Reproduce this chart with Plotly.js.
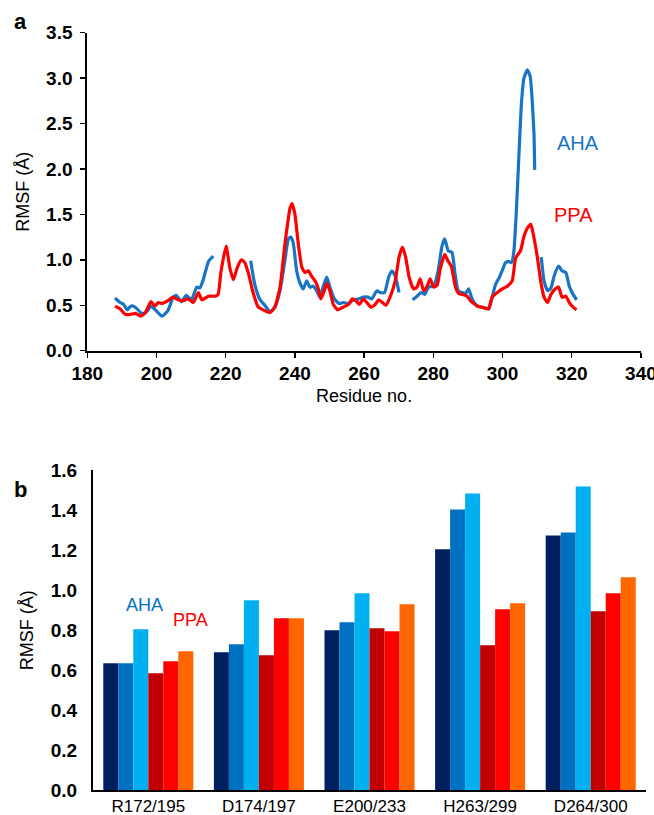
<!DOCTYPE html>
<html>
<head>
<meta charset="utf-8">
<script src="https://cdn.plot.ly/plotly-3.0.1.min.js"></script>
<style>html,body{margin:0;padding:0;background:#fff;}#chart{width:654px;height:815px;}</style>
</head>
<body>
<div id="chart"></div>
<script>
// ---- Panel a: RMSF per residue ----
const ahaResidue = [188,189.5,190.5,191.5,192.5,193.4,194.4,195.4,196.4,197.4,198.4,199.9,201.6,203.3,204.7,205.7,207.2,208.6,210.1,211.6,212.5,213.5,215,216.4,
  220,
  227.2,228.4,229.8,231.3,232.8,234.2,235.7,237.1,238.1,238.8,239.5,240.5,241.4,242.4,243.4,244.3,245.3,246.3,247.2,248.2,249.2,250.1,251.4,252.8,254,255.5,256.9,258.4,259.8,261.1,262.2,263.7,264.6,265.9,267.1,268,269,270.1,
  272,
  274,275.3,276.5,277.5,278.6,280.1,281.4,282.5,283.3,284.3,285.4,286.3,287.2,288.3,289.3,290.2,291.2,292.2,293.6,295.1,296.1,297,298,299,299.9,300.9,301.9,302.6,303.3,304,304.8,305.5,306.2,307.2,308,308.6,309.1,309.3,
  310,
  311.2,312,313,314,314.9,316.2,317.2,318.3,319.3,320.4,321.4];
const ahaRmsf = [0.58,0.53,0.51,0.45,0.49,0.49,0.46,0.42,0.41,0.44,0.49,0.44,0.38,0.44,0.58,0.61,0.54,0.61,0.56,0.70,0.69,0.78,0.98,1.04,
  null,
  0.99,0.73,0.57,0.50,0.43,0.48,0.66,0.99,1.23,1.25,1.19,0.88,0.75,0.68,0.77,0.70,0.71,0.66,0.59,0.71,0.81,0.70,0.57,0.52,0.53,0.52,0.56,0.57,0.59,0.59,0.57,0.66,0.64,0.64,0.81,0.88,0.82,0.64,
  null,
  0.56,0.60,0.64,0.62,0.70,0.71,0.88,1.15,1.23,1.10,1.08,0.84,0.66,0.64,0.63,0.68,0.57,0.51,0.48,0.47,0.46,0.59,0.73,0.80,0.88,0.97,0.98,0.97,1.10,1.54,2.20,2.74,3.00,3.09,3.02,2.74,2.38,1.99,
  null,
  1.03,0.77,0.66,0.69,0.82,0.93,0.88,0.86,0.71,0.62,0.56];

const ppaResidue = [188,189.5,191,192.5,193.9,195.4,196.8,198.4,199.5,200.5,201.7,203.3,204.7,206.2,207.6,209.1,210.6,212.1,213.1,215,217,217.8,218.6,220.1,221.2,222.2,223.3,224.5,225.5,226.5,227.9,229.4,230.8,232.8,234.2,235.7,237.1,238.6,239.2,240,241,242,242.9,243.9,244.8,245.8,246.8,247.5,248.5,249.2,250.1,251.1,252.4,254,255.5,256.6,257.6,258.6,259.8,260.8,262,263.2,264.2,265.3,266.3,267.5,269,270.1,271.1,272,273,274.3,275.3,276.2,277.2,278.2,279.1,280.1,281.1,282,283.3,284.2,285.2,286.4,287.3,288.3,289.8,290.7,291.7,292.7,294.1,295.9,297,298.5,299.9,301.4,302.8,303.8,305.2,306.2,307.2,308.2,309.1,310.1,311.1,312,313,314,315.2,316.2,317.2,318.3,319.3,320.4,321.4];
const ppaRmsf = [0.49,0.46,0.40,0.40,0.41,0.38,0.42,0.54,0.49,0.53,0.52,0.55,0.59,0.56,0.55,0.57,0.53,0.64,0.56,0.60,0.60,0.62,0.86,1.15,0.91,0.78,0.91,1.00,0.97,0.86,0.64,0.48,0.45,0.42,0.48,0.70,1.17,1.57,1.62,1.50,1.17,0.92,0.86,0.88,0.82,0.77,0.68,0.57,0.66,0.74,0.66,0.51,0.45,0.48,0.51,0.57,0.55,0.51,0.57,0.53,0.48,0.51,0.56,0.53,0.50,0.59,0.77,1.03,1.14,1.03,0.81,0.68,0.70,0.79,0.66,0.71,0.79,0.70,0.72,0.90,1.06,0.99,0.93,0.70,0.63,0.62,0.60,0.55,0.52,0.49,0.48,0.46,0.59,0.64,0.68,0.71,0.77,1.02,1.10,1.26,1.35,1.39,1.24,1.02,0.75,0.59,0.53,0.62,0.68,0.70,0.59,0.60,0.53,0.48,0.45];

// ---- Panel b: RMSF of selected residues ----
const residuePairs = ['R172/195','D174/197','E200/233','H263/299','D264/300'];
const aha1 = [0.635, 0.69, 0.80, 1.205, 1.275];
const aha2 = [0.635, 0.73, 0.84, 1.405, 1.29];
const aha3 = [0.805, 0.95, 0.985, 1.485, 1.52];
const ppa1 = [0.585, 0.675, 0.81, 0.725, 0.895];
const ppa2 = [0.645, 0.86, 0.795, 0.905, 0.985];
const ppa3 = [0.695, 0.86, 0.93, 0.935, 1.065];
const barNames = ['AHA 1','AHA 2','AHA 3','PPA 1','PPA 2','PPA 3'];
const barColors = ['#002060','#0070C0','#00B0F0','#C00000','#FF0000','#FF6600'];

const FONT = 'Liberation Sans, Arial, Helvetica, sans-serif';

const traces = [
  {x: ahaResidue, y: ahaRmsf, type:'scatter', mode:'lines', name:'AHA', connectgaps:false,
   line:{color:'#1A74C4', width:3.2, shape:'spline', smoothing:0.5}, xaxis:'x', yaxis:'y'},
  {x: ppaResidue, y: ppaRmsf, type:'scatter', mode:'lines', name:'PPA',
   line:{color:'#FF0000', width:3.2, shape:'spline', smoothing:0.5}, xaxis:'x', yaxis:'y'}
];
[aha1,aha2,aha3,ppa1,ppa2,ppa3].forEach((vals,i)=>{
  traces.push({x: residuePairs, y: vals, type:'bar', name: barNames[i],
    marker:{color: barColors[i], line:{width:0}}, xaxis:'x2', yaxis:'y2'});
});

const layout = {
  width:654, height:815, autosize:false,
  margin:{l:0,r:0,t:0,b:0},
  paper_bgcolor:'#fff', plot_bgcolor:'#fff',
  showlegend:false,
  font:{family:FONT, color:'#000'},
  barmode:'group', bargap:0.186, bargroupgap:0,
  xaxis:{domain:[0.1335,0.98], anchor:'y', range:[180,340], dtick:20, tick0:180,
    showline:true, linecolor:'#000', linewidth:2, ticks:'outside', ticklen:5, tickwidth:1.5, tickcolor:'#000',
    ticklabeloverflow:'allow',
    showgrid:false, zeroline:false, tickfont:{size:19, weight:'bold', family:FONT},
    title:{text:'Residue no.', font:{size:18, family:FONT}, standoff:6}},
  yaxis:{domain:[0.5697,0.9599], anchor:'x', range:[0,3.5], dtick:0.5, tickformat:'.1f',
    showline:true, linecolor:'#000', linewidth:2, ticks:'outside', ticklen:5, tickwidth:1.5, tickcolor:'#000',
    ticklabelstandoff:4,
    showgrid:false, zeroline:false, tickfont:{size:19, weight:'bold', family:FONT},
    title:{text:'RMSF (Å)', font:{size:18, family:FONT}, standoff:12}},
  xaxis2:{domain:[0.1422,0.9878], anchor:'y2', showline:true, linecolor:'#000', linewidth:2,
    ticks:'', showgrid:false, zeroline:false, tickfont:{size:17, family:FONT}},
  yaxis2:{domain:[0.0307,0.4227], anchor:'x2', range:[0,1.6], dtick:0.2, tickformat:'.1f',
    showline:true, linecolor:'#000', linewidth:2, ticks:'', showgrid:false, zeroline:false,
    ticklabelstandoff:10, tickfont:{size:19, weight:'bold', family:FONT},
    title:{text:'RMSF (Å)', font:{size:18, family:FONT}, standoff:12}},
  annotations:[
    {text:'a', xref:'paper', yref:'paper', x:20/654, y:1-22/815, xanchor:'center', yanchor:'middle', showarrow:false, font:{size:22, weight:'bold', family:FONT}},
    {text:'b', xref:'paper', yref:'paper', x:20/654, y:1-489/815, xanchor:'center', yanchor:'middle', showarrow:false, font:{size:22, weight:'bold', family:FONT}},
    {text:'AHA', xref:'x', yref:'y', x:321.8, y:2.29, showarrow:false, font:{size:20, color:'#1A74C4', family:FONT}},
    {text:'PPA', xref:'x', yref:'y', x:320.4, y:1.49, showarrow:false, font:{size:20, color:'#FF0000', family:FONT}},
    {text:'AHA', xref:'paper', yref:'y2', x:124/654, y:0.926, showarrow:false, font:{size:18, color:'#0070C0', family:FONT}},
    {text:'PPA', xref:'paper', yref:'y2', x:171/654, y:0.851, showarrow:false, font:{size:18, color:'#FF0000', family:FONT}},
    {text:'', xref:'paper', yref:'y2', x:0.1422, y:1.605, ax:0, ay:12, showarrow:true, arrowhead:2, arrowsize:1.2, arrowwidth:1.6, arrowcolor:'#000', standoff:0}
  ]
};
Plotly.newPlot('chart', traces, layout, {displayModeBar:false, staticPlot:true});
</script>
</body>
</html>
